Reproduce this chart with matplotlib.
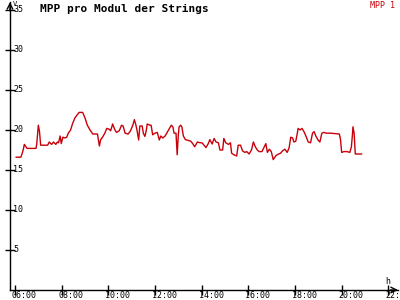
import matplotlib
matplotlib.use("Agg")
import matplotlib.pyplot as plt
from matplotlib.transforms import blended_transform_factory

# MPP voltage per module
times = [
    "06:03", "06:15", "06:18", "06:21", "06:24", "06:28", "06:31", "06:54",
    "06:56", "07:00", "07:03", "07:06", "07:24", "07:28", "07:34", "07:39",
    "07:45", "07:49", "07:52", "07:56", "07:59", "08:03", "08:08", "08:13",
    "08:17", "08:23", "08:28", "08:34", "08:40", "08:45", "08:54", "09:00",
    "09:06", "09:13", "09:20", "09:32", "09:37", "09:40", "09:45", "09:51",
    "09:56", "10:02", "10:06", "10:11", "10:17", "10:21", "10:28", "10:34",
    "10:38", "10:43", "10:51", "10:57", "11:03", "11:07", "11:11", "11:14",
    "11:18", "11:21", "11:27", "11:30", "11:34", "11:37", "11:40", "11:47",
    "11:50", "11:54", "12:00", "12:06", "12:11", "12:15", "12:20", "12:26",
    "12:30", "12:36", "12:42", "12:46", "12:49", "12:54", "12:57", "13:00",
    "13:02", "13:06", "13:09", "13:13", "13:18", "13:25", "13:32", "13:37",
    "13:42", "13:49", "13:56", "14:01", "14:06", "14:11", "14:17", "14:21",
    "14:27", "14:32", "14:37", "14:43", "14:47", "14:54", "14:57", "15:02",
    "15:09", "15:14", "15:17", "15:23", "15:30", "15:34", "15:40", "15:45",
    "15:51", "15:56", "16:02", "16:08", "16:13", "16:18", "16:23", "16:28",
    "16:35", "16:40", "16:45", "16:49", "16:54", "16:59", "17:04", "17:11",
    "17:18", "17:23", "17:28", "17:34", "17:40", "17:45", "17:49", "17:54",
    "17:57", "18:02", "18:06", "18:08", "18:13", "18:18", "18:23", "18:28",
    "18:34", "18:40", "18:45", "18:49", "18:54", "19:00", "19:04", "19:09",
    "19:14", "19:21", "19:32", "19:54", "19:57", "20:00", "20:06", "20:14",
    "20:21", "20:25", "20:28", "20:29", "20:32", "20:35", "20:51",
]
mpp1 = [
    16.6, 16.6, 17.0, 17.5, 18.2, 17.9, 17.7, 17.7,
    18.3, 20.6, 19.8, 18.1, 18.1, 18.5, 18.2, 18.5,
    18.2, 18.5, 18.4, 19.25, 18.3, 19.1, 19.0, 19.1,
    19.6, 20.0, 20.8, 21.5, 21.9, 22.2, 22.2, 21.5,
    20.6, 20.0, 19.5, 19.5, 18.0, 18.75, 19.1, 19.6,
    20.2, 20.1, 19.9, 20.75, 20.0, 19.7, 19.9, 20.6,
    20.5, 19.6, 19.5, 19.9, 20.6, 21.3, 20.6, 19.9,
    18.75, 20.5, 20.5, 19.6, 19.2, 19.8, 20.75, 20.6,
    20.6, 19.4, 19.6, 19.7, 18.75, 19.25, 19.0, 19.25,
    19.6, 20.1, 20.6, 20.4, 19.6, 19.6, 16.9, 19.4,
    20.4, 20.6, 20.4, 19.25, 18.8, 18.7, 18.6, 18.3,
    17.9, 18.5, 18.4, 18.4, 18.1, 17.8, 18.3, 18.8,
    18.25, 18.95, 18.5, 18.4, 17.5, 17.5, 18.95, 18.4,
    18.2, 18.4, 17.1, 16.9, 16.75, 18.1, 18.1, 17.4,
    17.2, 17.3, 17.0, 17.5, 18.5, 17.9, 17.5, 17.3,
    17.3, 17.8, 18.3, 17.2, 17.6, 17.3, 16.3, 16.8,
    17.0, 17.1, 17.4, 17.6, 17.2, 17.8, 19.1, 19.0,
    18.5, 18.6, 19.6, 20.2, 20.0, 20.2, 19.8, 19.25,
    18.5, 18.4, 19.6, 19.8, 19.2, 18.7, 18.5, 19.6,
    19.7, 19.6, 19.6, 19.5, 18.8, 17.2, 17.3, 17.3,
    17.2, 17.9, 19.6, 20.4, 19.6, 17.0, 17.0,
]
xticks = [6, 8, 10, 12, 14, 16, 18, 20, 22]
xticklabels = ["06:00", "08:00", "10:00", "12:00", "14:00", "16:00", "18:00", "20:00", "22:00"]
yticks = [5, 10, 15, 20, 25, 30, 35]

hours = [int(t[:2]) + int(t[3:]) / 60 for t in times]

mono = "DejaVu Sans Mono"
red = "#c8000a"
px_per_hour = 46.667 / 2

fig = plt.figure(figsize=(4, 3), dpi=100)
ax = fig.add_axes([10 / 400, 10 / 300, 388 / 400, 288 / 300])
ax.set_xlim(6 - 5 / px_per_hour, 6 + 383 / px_per_hour)
ax.set_ylim(0, 36)

ax.plot(hours, mpp1, color=red, lw=1.0)

for s in ["top", "right"]:
    ax.spines[s].set_visible(False)
for s in ["left", "bottom"]:
    ax.spines[s].set_linewidth(1.0)

ax.set_xticks(xticks)
ax.set_yticks(yticks)
ax.tick_params(direction="inout", length=7, width=1, labelbottom=False, labelleft=False)

# tick labels sit right of the y ticks and right-below the x ticks
ytrans = blended_transform_factory(fig.transFigure, ax.transData)
for v in yticks:
    fig.text(13 / 400, v, str(v), transform=ytrans, fontsize=6, family=mono,
             va="center", ha="left")
xtrans = blended_transform_factory(ax.transData, fig.transFigure)
for v, lab in zip(xticks, xticklabels):
    fig.text(v - 3 / px_per_hour, 1 - 296 / 300, lab, transform=xtrans, fontsize=6,
             family=mono, va="center", ha="left")

# axis arrows
ax.annotate("", xy=(0, 1.0), xytext=(0, 0.97), xycoords="axes fraction",
            arrowprops=dict(arrowstyle="->", lw=1, color="black", shrinkA=0, shrinkB=0))
ax.annotate("", xy=(1.0, 0), xytext=(0.98, 0), xycoords="axes fraction",
            arrowprops=dict(arrowstyle="->", lw=1, color="black", shrinkA=0, shrinkB=0))

fig.text(13 / 400, 1 - 4 / 300, "V", fontsize=5, family=mono, va="center", ha="left")
fig.text(385 / 400, 1 - 282 / 300, "h", fontsize=6, family=mono, va="center", ha="left")
fig.text(40 / 400, 1 - 9 / 300, "MPP pro Modul der Strings", fontsize=8, family=mono,
         fontweight="bold", va="center", ha="left")
fig.text(395 / 400, 1 - 5 / 300, "MPP 1", fontsize=6, family=mono, color=red,
         va="center", ha="right")

fig.savefig("out.png", dpi=100)
